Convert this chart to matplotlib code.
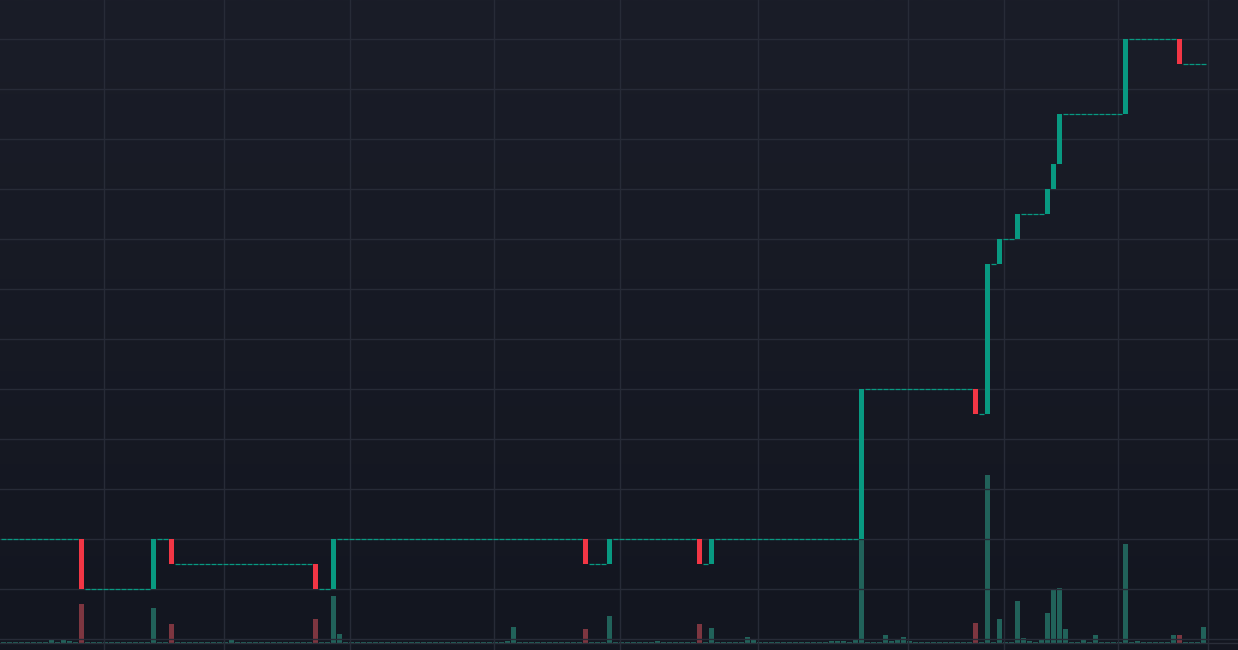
import numpy as np
import matplotlib
matplotlib.use("Agg")
import matplotlib.pyplot as plt
from matplotlib.colors import LinearSegmentedColormap

# close price of each candle (open = previous close), 201 candles
closes = [
    4, 4, 4, 4, 4, 4, 4, 4, 4, 4, 4, 4, 4, 2, 2, 2, 2, 2, 2, 2,
    2, 2, 2, 2, 2, 4, 4, 4, 3, 3, 3, 3, 3, 3, 3, 3, 3, 3, 3, 3,
    3, 3, 3, 3, 3, 3, 3, 3, 3, 3, 3, 3, 2, 2, 2, 4, 4, 4, 4, 4,
    4, 4, 4, 4, 4, 4, 4, 4, 4, 4, 4, 4, 4, 4, 4, 4, 4, 4, 4, 4,
    4, 4, 4, 4, 4, 4, 4, 4, 4, 4, 4, 4, 4, 4, 4, 4, 4, 3, 3, 3,
    3, 4, 4, 4, 4, 4, 4, 4, 4, 4, 4, 4, 4, 4, 4, 4, 3, 3, 4, 4,
    4, 4, 4, 4, 4, 4, 4, 4, 4, 4, 4, 4, 4, 4, 4, 4, 4, 4, 4, 4,
    4, 4, 4, 10, 10, 10, 10, 10, 10, 10, 10, 10, 10, 10, 10, 10, 10, 10, 10, 10,
    10, 10, 9, 9, 15, 15, 16, 16, 16, 17, 17, 17, 17, 17, 18, 19, 21, 21, 21, 21,
    21, 21, 21, 21, 21, 21, 21, 24, 24, 24, 24, 24, 24, 24, 24, 24, 23, 23, 23, 23,
    23,
]
opens = [closes[0]] + closes[:-1]

volumes = [
    1.3, 1.3, 1.3, 1.3, 1.3, 1.3, 1.3, 1.3, 4, 1.3, 4, 2, 1.3, 39, 1.3, 1.3, 1.3, 1.3, 1.3, 1.3,
    1.3, 1.3, 1.3, 1.3, 1.3, 35, 1.3, 1.3, 19, 1.3, 1.3, 1.3, 1.3, 1.3, 1.3, 1.3, 1.3, 1.3, 4, 1.3,
    1.3, 1.3, 1.3, 1.3, 1.3, 1.3, 1.3, 1.3, 1.3, 1.3, 1.3, 1.3, 24, 1.3, 1.3, 47, 9, 1.3, 1.3, 1.3,
    1.3, 1.3, 1.3, 1.3, 1.3, 1.3, 1.3, 1.3, 1.3, 1.3, 1.3, 1.3, 1.3, 1.3, 1.3, 1.3, 1.3, 1.3, 1.3, 1.3,
    1.3, 1.3, 1.3, 1.3, 2, 16, 1.3, 1.3, 1.3, 1.3, 1.3, 1.3, 1.3, 1.3, 1.3, 1.3, 1.3, 14, 1.3, 1.3,
    1.3, 27, 1.3, 1.3, 1.3, 1.3, 1.3, 1.3, 1.3, 2, 1.3, 1.3, 1.3, 1.3, 1.3, 1.3, 19, 1.3, 15, 1.3,
    1.3, 1.3, 1.3, 1.3, 6, 4, 1.3, 1.3, 1.3, 1.3, 1.3, 1.3, 1.3, 1.3, 1.3, 1.3, 1.3, 1.3, 2, 2,
    2, 1.3, 4, 105, 1.3, 1.3, 1.3, 8, 2, 3, 6, 2, 1.3, 1.3, 1.3, 1.3, 1.3, 1.3, 1.3, 1.3,
    1.3, 1.3, 20, 1.3, 168, 1.3, 24, 1.3, 1.3, 42, 5, 2, 1.3, 4, 30, 54, 55, 14, 1.3, 1.3,
    4, 1.3, 8, 1.3, 1.3, 1.3, 1.3, 99, 1.3, 2, 1.3, 1.3, 1.3, 1.3, 1.3, 8, 8, 1.3, 1.3, 1.3,
    16,
]

# time grid positions (candle index) and price grid levels
time_ticks = [17, 37, 58, 82, 103, 126, 151, 167, 186, 201]
price_ticks = list(range(0, 26, 2))

up = "#089981"
down = "#f23645"
up_vol = "#21625a"
down_vol = "#7d3640"
grid_col = "#272b37"

n = len(closes)
x = np.arange(n)
o = np.array(opens, dtype=float)
c = np.array(closes, dtype=float)
v = np.array(volumes, dtype=float)
is_up = c >= o

fig = plt.figure(figsize=(12.38, 6.5), dpi=100)

# background gradient
bg = fig.add_axes([0, 0, 1, 1])
cmap = LinearSegmentedColormap.from_list("bg", ["#131620", "#1a1d28"])
bg.imshow(np.linspace(0, 1, 256).reshape(-1, 1), aspect="auto", cmap=cmap,
          origin="lower", extent=[0, 1, 0, 1])
bg.set_axis_off()

vol_ax = fig.add_axes([0, 0, 1, 1])
vol_ax.patch.set_visible(False)
ax = vol_ax.twinx()
ax.set_zorder(vol_ax.get_zorder() + 1)
ax.patch.set_visible(False)

xmin = -3.5 / 6
xmax = (1238 - 3.5) / 6
vol_ax.set_xlim(xmin, xmax)
ax.set_xlim(xmin, xmax)
ax.set_ylim(-0.45, 25.55)
vol_ax.set_ylim(-7, 643)

# grid
for t in time_ticks:
    ax.axvline(t - 0.2, color=grid_col, lw=1, zorder=0)
for p in price_ticks:
    ax.axhline(p, color=grid_col, lw=1, zorder=0)
vol_ax.axhline(0, color="#2a2e39", lw=1)

# volume
vol_cols = np.where(is_up, up_vol, down_vol)
vol_ax.bar(x, v, width=5 / 6, color=vol_cols, linewidth=0)

# candles
body = c - o
moving = body != 0
ax.bar(x[moving], body[moving], bottom=o[moving], width=5 / 6,
       color=np.where(is_up, up, down)[moving], linewidth=0, zorder=3)
flat = ~moving
ax.hlines(c[flat], x[flat] - 0.38, x[flat] + 0.38, color=up, lw=0.9, zorder=3)

for a in (ax, vol_ax):
    a.set_xticks([])
    a.set_yticks([])
    for s in a.spines.values():
        s.set_visible(False)

fig.savefig("out.png", dpi=100)
